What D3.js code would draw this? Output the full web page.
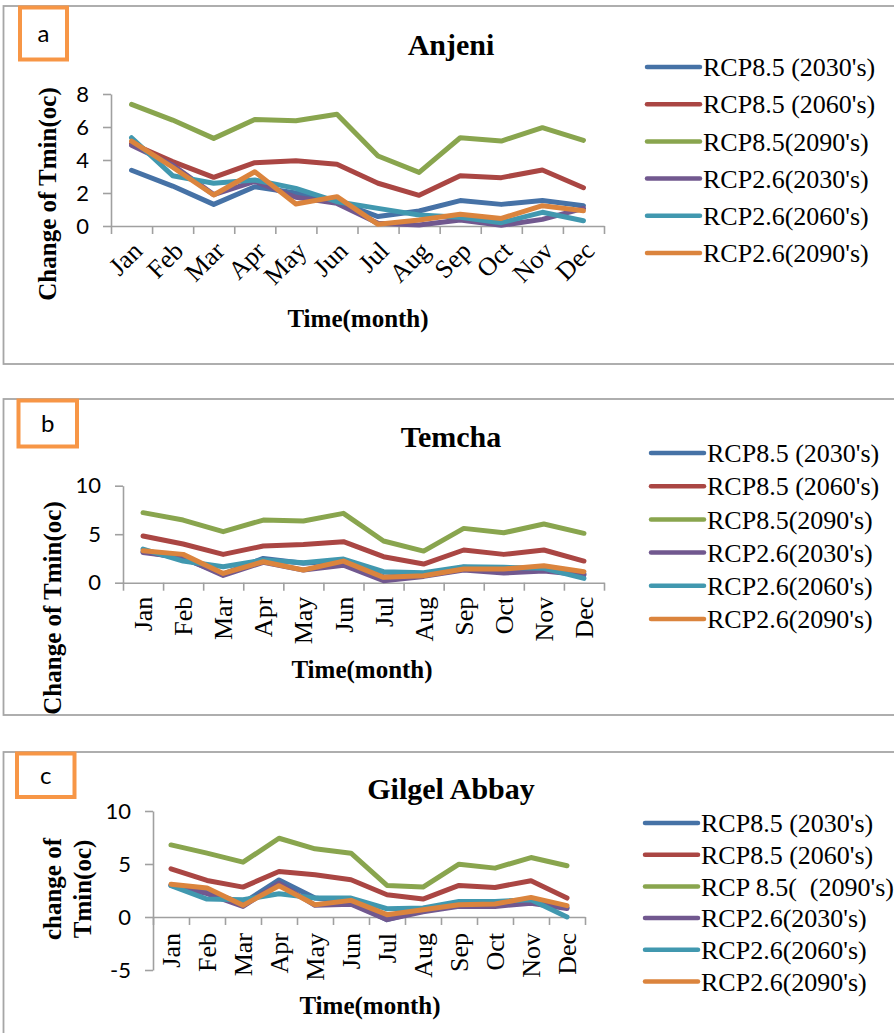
<!DOCTYPE html>
<html>
<head>
<meta charset="utf-8">
<script src="https://cdn.jsdelivr.net/npm/d3@7"></script>
<style>
  body { margin: 0; background: #fff; }
  svg text { fill: #000; }
  .serif { font-family: "Liberation Serif", "Times New Roman", serif; }
  .sans { font-family: Lato, "Open Sans", sans-serif; }
  .axis path, .axis line { stroke: #a0a0a0; stroke-width: 1.6; }
</style>
</head>
<body>
<svg id="chart" width="894" height="1033"></svg>
<script>
// ---- data ----
months = ["Jan","Feb","Mar","Apr","May","Jun","Jul","Aug","Sep","Oct","Nov","Dec"];
legend_ab = ["RCP8.5 (2030's)","RCP8.5 (2060's)","RCP8.5(2090's)","RCP2.6(2030's)","RCP2.6(2060's)","RCP2.6(2090's)"];
legend_c  = ["RCP8.5 (2030's)","RCP8.5 (2060's)","RCP 8.5(  (2090's)","RCP2.6(2030's)","RCP2.6(2060's)","RCP2.6(2090's)"];
colors = ["#4672a6","#aa4643","#89a54e","#71588f","#4198af","#db843d"];

// Anjeni
anjeni_85_2030 = [3.38, 2.42, 1.31, 2.38, 2.0, 1.5, 0.57, 0.91, 1.54, 1.31, 1.54, 1.23];
anjeni_85_2060 = [5.0, 3.9, 2.95, 3.84, 3.96, 3.74, 2.59, 1.86, 3.05, 2.93, 3.39, 2.32];
anjeni_85_2090 = [7.37, 6.42, 5.31, 6.46, 6.38, 6.77, 4.24, 3.25, 5.35, 5.15, 5.96, 5.19];
anjeni_26_2030 = [4.9, 3.7, 1.9, 2.7, 1.74, 1.37, 0.16, 0.06, 0.36, 0.04, 0.4, 1.07];
anjeni_26_2060 = [5.35, 3.05, 2.59, 2.79, 2.28, 1.47, 1.07, 0.67, 0.53, 0.2, 0.83, 0.32];
anjeni_26_2090 = [5.15, 3.56, 1.88, 3.29, 1.33, 1.78, 0.1, 0.36, 0.71, 0.46, 1.23, 0.93];
// Temcha
temcha_85_2030 = [3.2, 2.5, 0.9, 2.5, 2.0, 2.3, 0.6, 0.8, 1.6, 1.3, 1.5, 0.9];
temcha_85_2060 = [4.81, 3.99, 2.92, 3.78, 3.95, 4.23, 2.68, 1.92, 3.37, 2.92, 3.37, 2.23];
temcha_85_2090 = [7.22, 6.46, 5.26, 6.46, 6.36, 7.15, 4.3, 3.26, 5.6, 5.15, 6.05, 5.09];
temcha_26_2030 = [3.1, 2.6, 0.75, 2.1, 1.3, 1.8, 0.2, 0.65, 1.3, 1.0, 1.2, 0.8];
temcha_26_2060 = [3.47, 2.23, 1.65, 2.34, 2.06, 2.44, 1.13, 1.03, 1.65, 1.58, 1.48, 0.45];
temcha_26_2090 = [3.3, 2.92, 0.96, 2.16, 1.31, 2.23, 0.55, 0.72, 1.41, 1.41, 1.75, 1.13];
// Gilgel Abbay
gilgel_85_2030 = [3.0, 2.4, 1.3, 3.5, 1.8, 1.4, -0.25, 0.6, 1.1, 1.1, 1.5, 0.9];
gilgel_85_2060 = [4.55, 3.45, 2.82, 4.29, 3.98, 3.51, 2.1, 1.69, 2.98, 2.79, 3.42, 1.79];
gilgel_85_2090 = [6.8, 6.02, 5.17, 7.43, 6.43, 6.02, 2.98, 2.82, 4.98, 4.61, 5.61, 4.83];
gilgel_26_2030 = [3.0, 2.2, 1.0, 3.2, 1.1, 1.2, -0.25, 0.5, 1.0, 1.0, 1.3, 0.8];
gilgel_26_2060 = [2.95, 1.69, 1.63, 2.19, 1.79, 1.79, 0.78, 0.85, 1.47, 1.47, 1.63, 0.0];
gilgel_26_2090 = [3.1, 2.73, 1.1, 2.95, 1.16, 1.57, 0.22, 0.69, 1.16, 1.22, 1.85, 1.07];

ticks_a = [0, 2, 4, 6, 8];
ticks_b = [0, 5, 10];
ticks_c = [-5, 0, 5, 10];

svg = d3.select("#chart");

function drawPanel(p){
    let g = svg.append("g");
    let clipId = "clip_" + p.tag;
    svg.append("clipPath").attr("id", clipId)
        .append("rect").attr("x", 3.5).attr("y", p.frame[0]).attr("width", 900).attr("height", p.frame[1] - p.frame[0]);
    let inner = g.append("g").attr("clip-path", "url(#" + clipId + ")");

    // panel frame
    g.append("rect")
        .attr("x", 3.5).attr("y", p.frame[0])
        .attr("width", 1000).attr("height", p.frame[1] - p.frame[0])
        .style("fill", "none").style("stroke", "#a6a6a6").style("stroke-width", 1.8);

    // letter box
    g.append("rect")
        .attr("x", p.box[0]).attr("y", p.box[1]).attr("width", p.box[2]).attr("height", p.box[3])
        .style("fill", "none").style("stroke", "#f79646").style("stroke-width", 4);
    g.append("text").attr("class", "sans")
        .attr("x", p.box[0] + p.box[2] / 2).attr("y", p.box[1] + p.box[3] / 2)
        .attr("dy", "0.35em").style("text-anchor", "middle").style("font-size", "24px")
        .text(p.tag);

    // title
    g.append("text").attr("class", "serif")
        .attr("x", 451).attr("y", p.titleY)
        .style("text-anchor", "middle").style("font-size", "30px").style("font-weight", "bold")
        .text(p.title);

    // scales
    let x = d3.scaleBand().domain(months).range(p.xr).paddingInner(0);
    let xb = d3.scaleLinear().domain([0, 12]).range(p.xr);
    let y = d3.scaleLinear().domain(p.yd).range(p.yr);

    // y axis
    let ya = g.append("g").attr("class", "axis")
        .attr("transform", "translate(" + p.xr[0] + ",0)")
        .call(d3.axisLeft(y).tickValues(p.ticks).tickSize(8).tickSizeOuter(0).tickPadding(14)
            .tickFormat(function(d){ return String(d); }));
    ya.selectAll("text").attr("class", "sans").style("font-size", "22px").style("fill", "#000");

    // x axis, ticks on category boundaries
    let x0 = y(0);
    g.append("g").attr("class", "axis")
        .attr("transform", "translate(0," + x0 + ")")
        .call(d3.axisBottom(xb).ticks(12).tickSize(8).tickSizeOuter(0).tickFormat(""));
    let xl = g.append("g")
        .attr("transform", "translate(0," + x0 + ")")
        .call(d3.axisBottom(x).tickSize(0).tickFormat(function(d){ return d; }));
    xl.select(".domain").remove();
    xl.selectAll("text")
        .attr("class", "serif").style("font-size", "26px").style("fill", "#000")
        .attr("y", 0).attr("dy", "0.35em")
        .style("text-anchor", "end")
        .attr("transform", p.rot == 45
            ? "translate(6," + p.labOff + ") rotate(-45)"
            : "translate(0," + p.labOff + ") rotate(-90)");

    // axis titles
    g.append("text").attr("class", "serif")
        .attr("x", p.xTitle[0]).attr("y", p.xTitle[1])
        .style("text-anchor", "middle").style("font-size", "25px").style("font-weight", "bold")
        .text("Time(month)");
    p.yTitle.forEach(function(t){
        inner.append("text").attr("class", "serif")
            .attr("transform", "translate(" + t.x + "," + t.y + ") rotate(-90)")
            .attr("dy", "0.35em")
            .style("text-anchor", "middle").style("font-size", "25px").style("font-weight", "bold")
            .text(t.text);
    });

    // lines
    let line = d3.line()
        .x(function(d, i){ return x(months[i]) + x.bandwidth() / 2; })
        .y(function(d){ return y(d); });
    p.series.forEach(function(s, i){
        g.append("path")
            .datum(s)
            .attr("d", line)
            .style("fill", "none")
            .style("stroke", colors[i])
            .style("stroke-width", 5)
            .style("stroke-linejoin", "round")
            .style("stroke-linecap", "round");
    });

    // legend
    let lg = g.append("g");
    p.legend.forEach(function(name, i){
        let ly = p.leg.y0 + i * p.leg.step;
        lg.append("line")
            .attr("x1", p.leg.x).attr("x2", p.leg.x + 53)
            .attr("y1", ly).attr("y2", ly)
            .style("stroke", colors[i]).style("stroke-width", 4.5).style("stroke-linecap", "round");
        lg.append("text").attr("class", "serif")
            .attr("x", p.leg.x + 56).attr("y", ly).attr("dy", "0.35em")
            .style("font-size", "26px").style("white-space", "pre")
            .text(name);
    });
}

drawPanel({
    tag: "a", title: "Anjeni", frame: [6, 364], box: [20, 7.5, 47, 52], titleY: 55,
    xr: [111, 604], yd: [0, 8], yr: [226, 94], ticks: ticks_a, rot: 45, labOff: 20,
    xTitle: [358, 327],
    yTitle: [{x: 47, y: 194, text: "Change of Tmin(oc)"}],
    series: [anjeni_85_2030, anjeni_85_2060, anjeni_85_2090, anjeni_26_2030, anjeni_26_2060, anjeni_26_2090],
    legend: legend_ab, leg: {x: 647, y0: 67, step: 37.2}
});

drawPanel({
    tag: "b", title: "Temcha", frame: [399, 715], box: [18.5, 400.5, 58.5, 46], titleY: 447,
    xr: [123, 604], yd: [0, 10], yr: [582.7, 485.7], ticks: ticks_b, rot: 90, labOff: 14,
    xTitle: [362, 678],
    yTitle: [{x: 52, y: 608, text: "Change of Tmin(oc)"}],
    series: [temcha_85_2030, temcha_85_2060, temcha_85_2090, temcha_26_2030, temcha_26_2060, temcha_26_2090],
    legend: legend_ab, leg: {x: 651, y0: 453, step: 33.2}
});

drawPanel({
    tag: "c", title: "Gilgel Abbay", frame: [752, 1100], box: [17, 753.5, 57.5, 43.5], titleY: 799,
    xr: [153, 585], yd: [-5, 10], yr: [970, 811], ticks: ticks_c, rot: 90, labOff: 16,
    xTitle: [370, 1014],
    yTitle: [{x: 52, y: 889, text: "change of"}, {x: 82, y: 889, text: "Tmin(oc)"}],
    series: [gilgel_85_2030, gilgel_85_2060, gilgel_85_2090, gilgel_26_2030, gilgel_26_2060, gilgel_26_2090],
    legend: legend_c, leg: {x: 645, y0: 823, step: 31.7}
});
</script>
</body>
</html>
